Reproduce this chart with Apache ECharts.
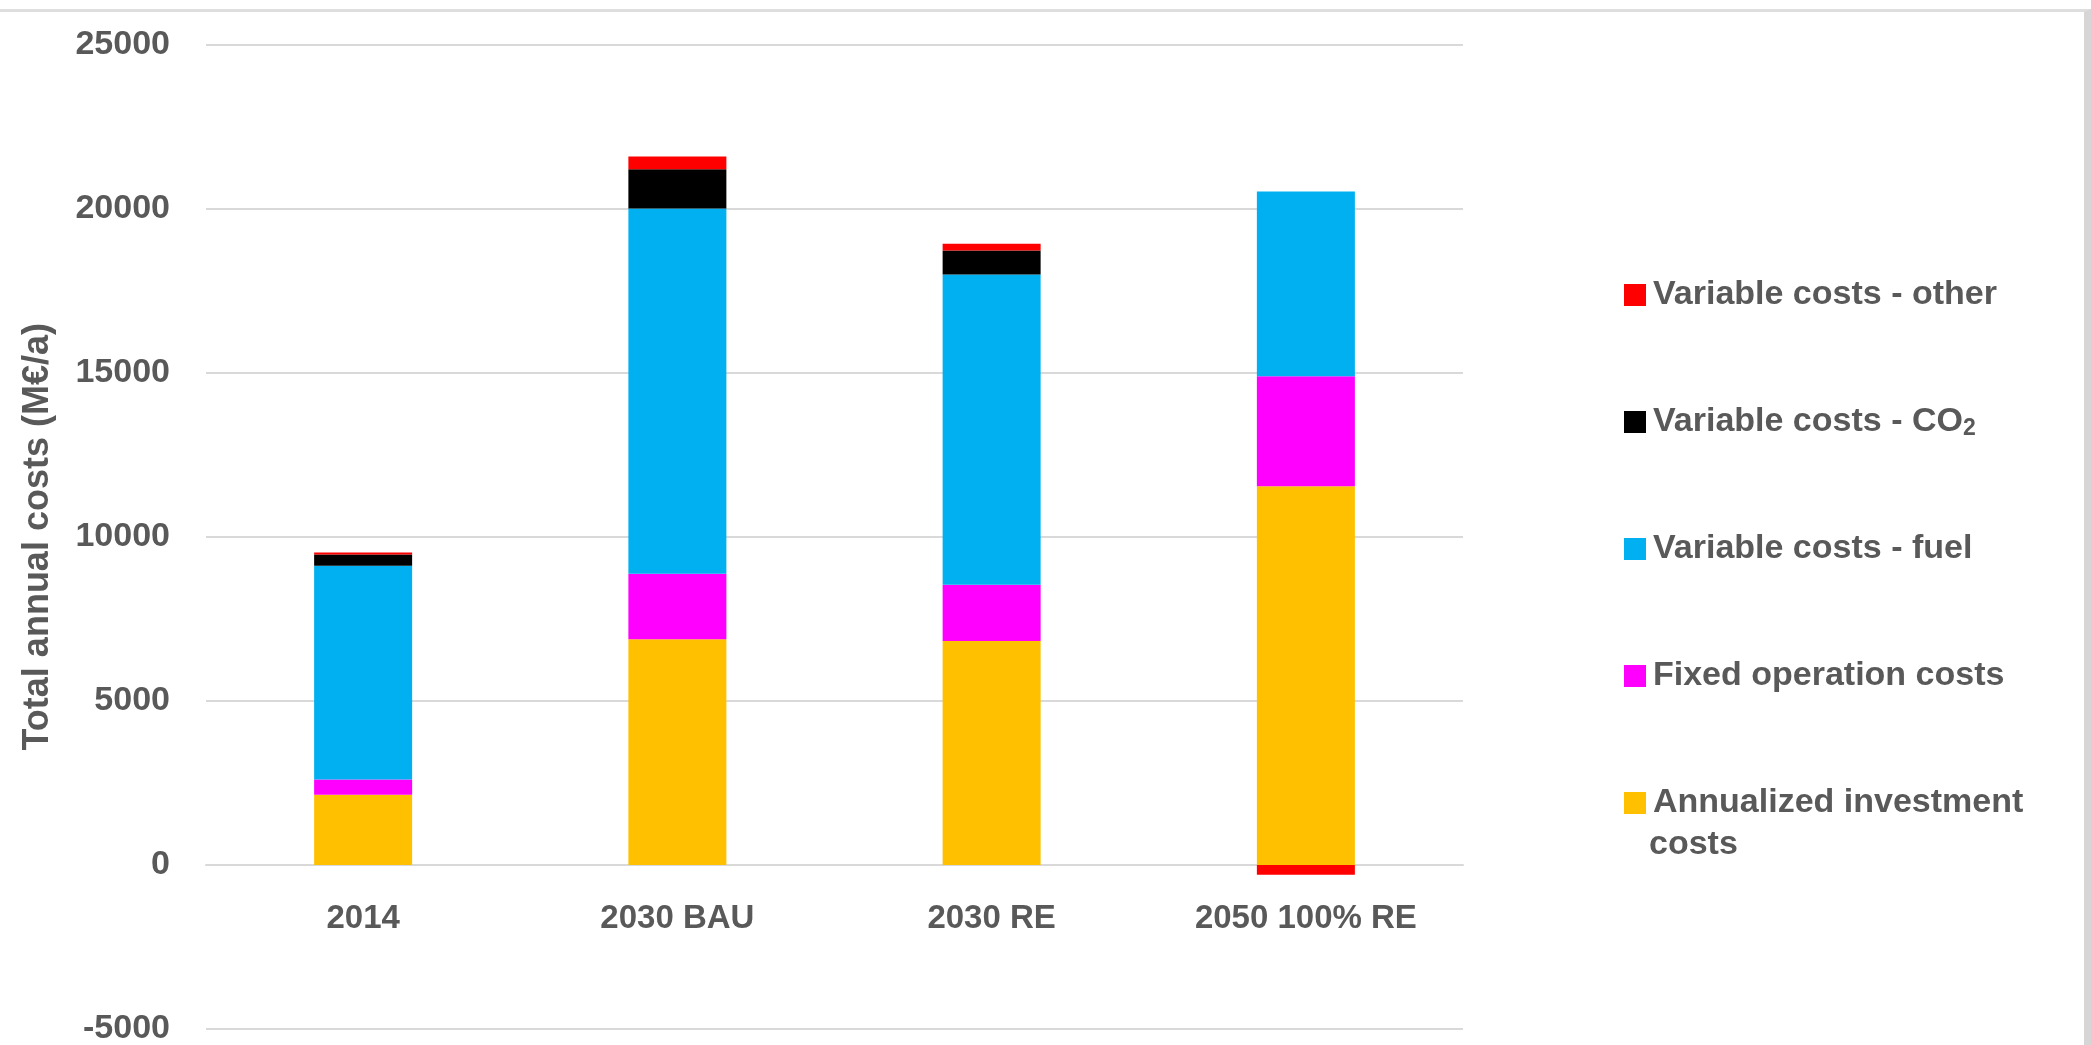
<!DOCTYPE html>
<html>
<head>
<meta charset="utf-8">
<script src="https://cdn.jsdelivr.net/npm/echarts@6/dist/echarts.min.js"></script>
<style>
  html, body { margin: 0; padding: 0; background: #ffffff; overflow: hidden; }
  #frame { position: absolute; left: -10px; top: 9px; right: 0; bottom: -10px; border-top: 3px solid #dedede; border-right: 7px solid #d6d6d6; box-sizing: border-box; }
  #chart { position: absolute; left: 0; top: 0; width: 2091px; height: 1045px; }
</style>
</head>
<body>
<div id="frame"></div>
<div id="chart"></div>
<script>
const categories = ['2014', '2030 BAU', '2030 RE', '2050 100% RE'];
const seriesNames = ['Annualized investment costs', 'Fixed operation costs', 'Variable costs - fuel', 'Variable costs - CO\u2082', 'Variable costs - other'];
const investment = [2140, 6880, 6820, 11540];
const fixedOperation = [460, 1990, 1720, 3350];
const fuel = [6520, 11130, 9450, 5630];
const co2 = [340, 1200, 735, 0];
const other = [60, 390, 200, -300];
const yTicks = { min: -5000, max: 25000, interval: 5000 };
const colors = ['#FFC000', '#FF00FF', '#00B0F0', '#000000', '#FF0000'];

const fam = '"Liberation Sans", Arial, sans-serif';
const textGray = '#595959';

const chart = echarts.init(document.getElementById('chart'), null, { renderer: 'canvas' });
const values = [investment, fixedOperation, fuel, co2, other];

const gridTop = 44.5, gridBottom = 16;
const plotH = 1045 - gridTop - gridBottom;
const zeroOffset = -plotH * (0 - yTicks.min) / (yTicks.max - yTicks.min);

chart.setOption({
  backgroundColor: 'transparent',
  animation: false,
  grid: { left: 206, right: 628, top: gridTop, bottom: gridBottom, containLabel: false, outerBoundsMode: 'none' },
  legend: {
    orient: 'vertical',
    left: 1619,
    top: 268,
    itemWidth: 22,
    itemHeight: 22,
    itemGap: 83,
    icon: 'rect',
    data: seriesNames.slice().reverse(),
    formatter: function (name) {
      if (name === 'Variable costs - CO\u2082') return '{t|Variable costs - CO}{sub|2}';
      if (name === 'Annualized investment costs') return '{t|Annualized investment}';
      return '{t|' + name + '}';
    },
    textStyle: {
      color: textGray,
      fontFamily: fam,
      fontWeight: 'bold',
      fontSize: 34,
      lineHeight: 44,
      padding: [0, 0, 0, 2],
      rich: {
        t: { color: textGray, fontFamily: fam, fontWeight: 'bold', fontSize: 34, lineHeight: 44 },
        sub: { color: textGray, fontFamily: fam, fontWeight: 'bold', fontSize: 23, lineHeight: 44, padding: [14, 0, 0, 0] }
      }
    }
  },
  graphic: [{
    type: 'text',
    x: 1649,
    y: 845,
    style: {
      text: 'costs',
      fill: textGray,
      font: 'bold 34px ' + fam,
      verticalAlign: 'middle',
      align: 'left'
    }
  }],
  xAxis: {
    type: 'category',
    data: categories,
    position: 'bottom',
    offset: zeroOffset,
    axisLine: { onZero: false, lineStyle: { color: '#d9d9d9', width: 2 } },
    axisTick: { show: false },
    axisLabel: { interval: 0, color: textGray, fontFamily: fam, fontWeight: 'bold', fontSize: 33, margin: 37 }
  },
  yAxis: {
    type: 'value',
    min: yTicks.min,
    max: yTicks.max,
    interval: yTicks.interval,
    name: 'Total annual costs (M\u20ac/a)',
    nameLocation: 'middle',
    nameGap: 150,
    nameTextStyle: { color: textGray, fontFamily: fam, fontWeight: 'bold', fontSize: 36 },
    axisLine: { show: false },
    axisTick: { show: false },
    splitLine: { lineStyle: { color: '#d9d9d9', width: 2 } },
    axisLabel: {
      color: textGray, fontFamily: fam, fontWeight: 'bold', fontSize: 34, margin: 36,
      formatter: function (v) { return String(v); }
    }
  },
  series: seriesNames.map(function (name, i) {
    return {
      name: name,
      type: 'bar',
      stack: 'total',
      barWidth: 98,
      itemStyle: { color: colors[i] },
      data: values[i]
    };
  })
});
</script>
</body>
</html>
